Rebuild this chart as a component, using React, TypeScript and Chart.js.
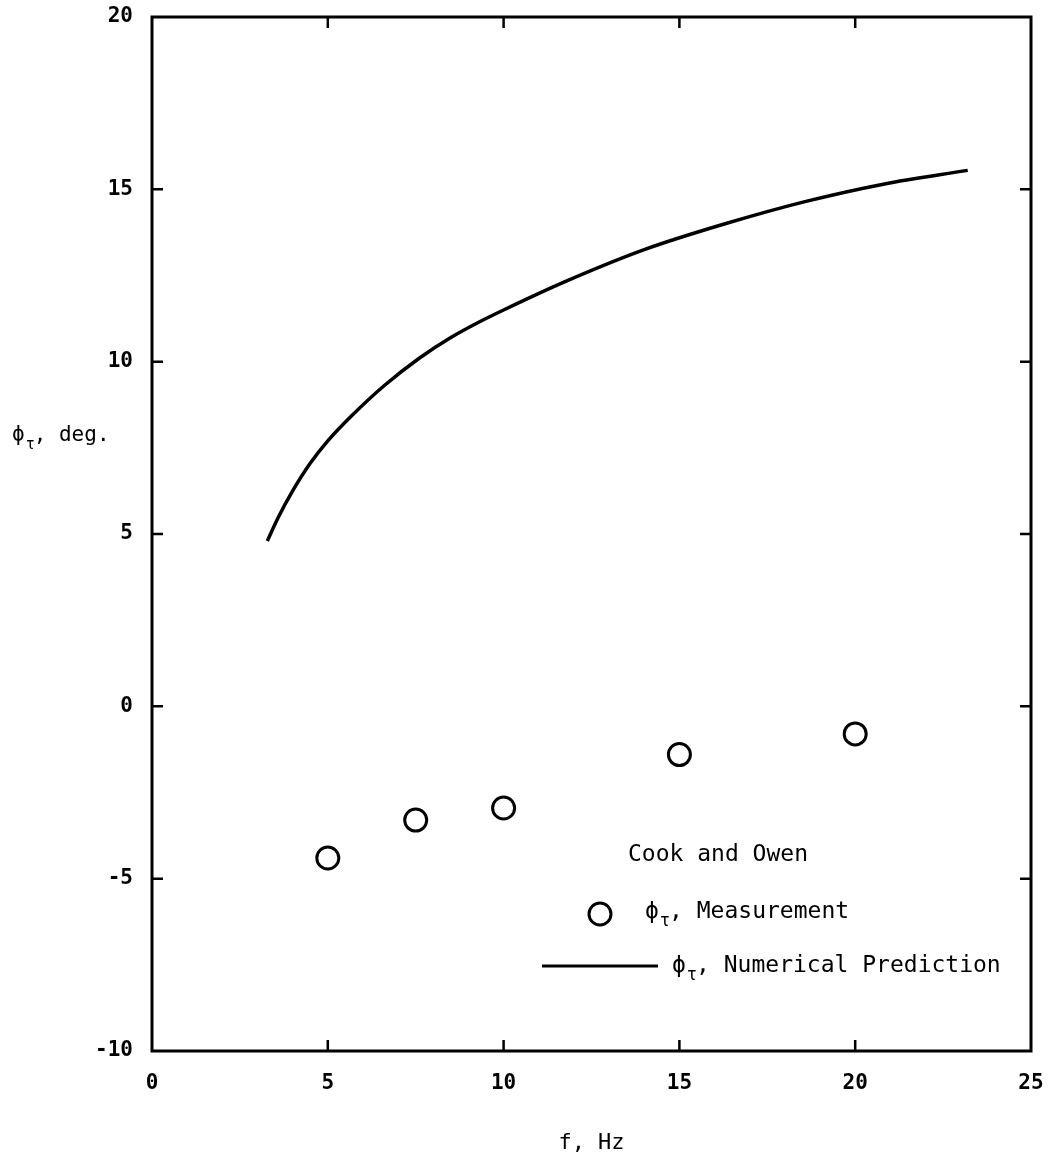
import React, { useEffect, useRef } from "react";
import { Chart, registerables } from "chart.js";

Chart.register(...registerables);

// ---- data ----
const measFreq = [5, 7.5, 10, 15, 20];
const measPhase = [-4.4, -3.3, -2.95, -1.4, -0.8];

const predFreq = [3.28, 3.6, 4.0, 4.5, 5.0, 5.65, 6.6, 7.6, 8.5, 9.4, 10.0, 11.7, 14.0, 16.3, 18.6, 20.8, 23.2];
const predPhase = [4.8, 5.5, 6.25, 7.05, 7.7, 8.4, 9.3, 10.1, 10.7, 11.2, 11.5, 12.3, 13.25, 14.0, 14.65, 15.15, 15.55];

const xTicks = [0, 5, 10, 15, 20, 25];
const yTicks = [-10, -5, 0, 5, 10, 15, 20];

const xTitle = "f, Hz";
const yTitleMain = "\u03D5";
const yTitleSub = "\u03C4";
const yTitleRest = ", deg.";
const legendHeader = "Cook and Owen";
const legendMeas = ", Measurement";
const legendPred = ", Numerical Prediction";

const MONO = "'DejaVu Sans Mono', 'Liberation Mono', monospace";

function drawSubText(ctx: CanvasRenderingContext2D, x: number, y: number, rest: string, size: number) {
  ctx.save();
  ctx.fillStyle = "#000";
  ctx.textBaseline = "middle";
  ctx.textAlign = "left";
  ctx.font = `${size}px ${MONO}`;
  ctx.fillText(yTitleMain, x, y);
  let cx = x + ctx.measureText(yTitleMain).width + 1;
  ctx.font = `${Math.round(size * 0.72)}px ${MONO}`;
  ctx.fillText(yTitleSub, cx, y + size * 0.42);
  cx += ctx.measureText(yTitleSub).width - 1;
  ctx.font = `${size}px ${MONO}`;
  ctx.fillText(rest, cx, y);
  ctx.restore();
}

const framePlugin = {
  id: "frameTicks",
  afterDraw(chart: any) {
    const { ctx, chartArea } = chart;
    const { left, right, top, bottom } = chartArea;
    const xs = chart.scales.x;
    const ys = chart.scales.y;
    ctx.save();
    ctx.strokeStyle = "#000";
    ctx.lineWidth = 3;
    ctx.strokeRect(left, top, right - left, bottom - top);
    const tl = 11;
    ctx.lineWidth = 2.5;
    ctx.beginPath();
    xTicks.forEach((v) => {
      if (v === xTicks[0] || v === xTicks[xTicks.length - 1]) return;
      const px = xs.getPixelForValue(v);
      ctx.moveTo(px, bottom);
      ctx.lineTo(px, bottom - tl);
      ctx.moveTo(px, top);
      ctx.lineTo(px, top + tl);
    });
    yTicks.forEach((v) => {
      if (v === yTicks[0] || v === yTicks[yTicks.length - 1]) return;
      const py = ys.getPixelForValue(v);
      ctx.moveTo(left, py);
      ctx.lineTo(left + tl, py);
      ctx.moveTo(right, py);
      ctx.lineTo(right - tl, py);
    });
    ctx.stroke();

    // y-axis title (horizontal, with subscript)
    drawSubText(ctx, 12, 436, yTitleRest, 21);

    // legend
    ctx.fillStyle = "#000";
    ctx.font = `23px ${MONO}`;
    ctx.textBaseline = "middle";
    ctx.textAlign = "left";
    ctx.fillText(legendHeader, 628, 855);

    ctx.lineWidth = 3;
    ctx.beginPath();
    ctx.arc(600, 914, 11, 0, Math.PI * 2);
    ctx.stroke();
    drawSubText(ctx, 645, 912, legendMeas, 23);

    ctx.beginPath();
    ctx.moveTo(542, 966);
    ctx.lineTo(658, 966);
    ctx.stroke();
    drawSubText(ctx, 672, 966, legendPred, 23);
    ctx.restore();
  },
};

export default function App() {
  const ref = useRef<HTMLCanvasElement | null>(null);

  useEffect(() => {
    if (!ref.current) return;
    const chart = new Chart(ref.current, {
      type: "scatter",
      data: {
        datasets: [
          {
            label: "Numerical Prediction",
            data: predFreq.map((x, i) => ({ x, y: predPhase[i] })),
            showLine: true,
            borderColor: "#000",
            borderWidth: 3.5,
            pointRadius: 0,
            cubicInterpolationMode: "monotone",
            fill: false,
          },
          {
            label: "Measurement",
            data: measFreq.map((x, i) => ({ x, y: measPhase[i] })),
            showLine: false,
            borderColor: "#000",
            backgroundColor: "rgba(0,0,0,0)",
            pointStyle: "circle",
            pointRadius: 11,
            pointBorderWidth: 3,
          },
        ],
      },
      options: {
        responsive: false,
        animation: false,
        devicePixelRatio: 1,
        layout: { padding: { left: 0, top: 17, right: 18, bottom: 0 } },
        plugins: {
          legend: { display: false },
          tooltip: { enabled: false },
        },
        scales: {
          x: {
            type: "linear",
            min: 0,
            max: 25,
            afterBuildTicks: (s: any) => {
              s.ticks = xTicks.map((v) => ({ value: v }));
            },
            afterFit: (s: any) => {
              s.height = 109;
              s.paddingLeft = 0;
              s.paddingRight = 0;
            },
            grid: { display: false, drawTicks: false },
            border: { display: false },
            ticks: {
              color: "#000",
              padding: 20,
              font: { family: MONO, size: 21, weight: "bold" },
              maxRotation: 0,
            },
            title: {
              display: true,
              text: xTitle,
              color: "#000",
              font: { family: MONO, size: 22 },
              padding: { top: 0, bottom: 4 },
            },
          },
          y: {
            type: "linear",
            min: -10,
            max: 20,
            afterBuildTicks: (s: any) => {
              s.ticks = yTicks.map((v) => ({ value: v }));
            },
            afterFit: (s: any) => {
              s.width = 152;
              s.paddingTop = 0;
              s.paddingBottom = 0;
            },
            grid: { display: false, drawTicks: false },
            border: { display: false },
            ticks: {
              color: "#000",
              padding: 19,
              font: { family: MONO, size: 21, weight: "bold" },
            },
          },
        },
      },
      plugins: [framePlugin],
    } as any);
    return () => chart.destroy();
  }, []);

  return (
    <div style={{ position: "absolute", left: 0, top: 0, width: 1049, height: 1160, background: "#fff" }}>
      <canvas ref={ref} width={1049} height={1160} style={{ width: 1049, height: 1160, display: "block" }} />
    </div>
  );
}
